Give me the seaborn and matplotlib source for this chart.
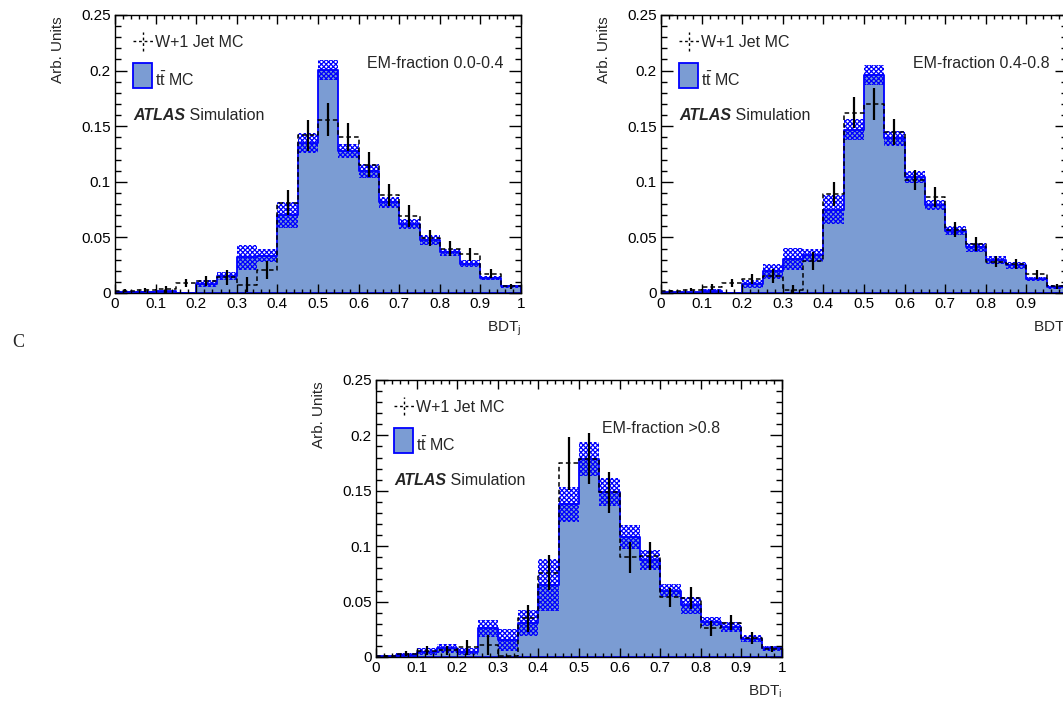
import numpy as np
import pandas as pd
import matplotlib
matplotlib.use("Agg")
import matplotlib.pyplot as plt
import matplotlib.patches as mpatches
from matplotlib.ticker import MultipleLocator, FuncFormatter
import seaborn as sns

# ---- binning (20 bins of width 0.05 on [0, 1]) ----
BIN_WIDTH = 0.05
bin_edges = np.round(np.arange(21) * BIN_WIDTH, 2)
bin_centers = (bin_edges[:-1] + bin_edges[1:]) / 2

# ---- EM-fraction 0.0-0.4 ----
ttbar_em_low = [0.001, 0.001, 0.0015, 0.0, 0.0084, 0.0157, 0.032, 0.0337, 0.070, 0.135,
                0.2005, 0.128, 0.110, 0.0816, 0.0624, 0.0474, 0.0366, 0.0264, 0.0132, 0.006]
ttbar_err_em_low = [0.0005, 0.0005, 0.0006, 0.0, 0.0033, 0.0036, 0.011, 0.0055, 0.0117, 0.009,
                    0.009, 0.0063, 0.0063, 0.0048, 0.0045, 0.0045, 0.0034, 0.003, 0.0018, 0.0012]
wjet_em_low = [0.0022, 0.0027, 0.0033, 0.009, 0.011, 0.014, 0.0075, 0.0207, 0.0813, 0.142,
               0.156, 0.140, 0.1155, 0.088, 0.0693, 0.0495, 0.040, 0.0348, 0.0174, 0.006]
wjet_err_em_low = [0.001, 0.0015, 0.003, 0.004, 0.0045, 0.0065, 0.0065, 0.0083, 0.011, 0.014,
                   0.0147, 0.0125, 0.011, 0.0098, 0.0095, 0.0072, 0.0065, 0.0056, 0.004, 0.002]

# ---- EM-fraction 0.4-0.8 ----
ttbar_em_mid = [0.0006, 0.0006, 0.002, 0.0, 0.008, 0.0195, 0.0306, 0.034, 0.075, 0.147,
                0.196, 0.139, 0.1045, 0.079, 0.056, 0.041, 0.0297, 0.025, 0.0126, 0.0054]
ttbar_err_em_mid = [0.0005, 0.0005, 0.0018, 0.0, 0.0033, 0.0065, 0.010, 0.006, 0.013, 0.0095,
                    0.009, 0.0066, 0.0054, 0.0048, 0.004, 0.004, 0.0033, 0.003, 0.0018, 0.0015]
wjet_em_mid = [0.0015, 0.003, 0.0053, 0.009, 0.0126, 0.0153, 0.003, 0.029, 0.0888, 0.162,
               0.170, 0.145, 0.1014, 0.0864, 0.057, 0.0444, 0.028, 0.0264, 0.0168, 0.006]
wjet_err_em_mid = [0.001, 0.0015, 0.003, 0.004, 0.0045, 0.0063, 0.0045, 0.008, 0.011, 0.014,
                   0.0145, 0.0117, 0.009, 0.0087, 0.007, 0.0063, 0.005, 0.0045, 0.004, 0.002]

# ---- EM-fraction >0.8 ----
ttbar_em_high = [0.0006, 0.0021, 0.0048, 0.0077, 0.0048, 0.026, 0.0153, 0.031, 0.065, 0.1377,
                 0.179, 0.149, 0.1087, 0.0873, 0.060, 0.0467, 0.032, 0.027, 0.0166, 0.008]
ttbar_err_em_high = [0.0005, 0.0018, 0.003, 0.0038, 0.003, 0.0078, 0.0097, 0.0116, 0.0238, 0.0155,
                     0.0154, 0.0124, 0.0108, 0.009, 0.006, 0.0075, 0.004, 0.0042, 0.003, 0.0023]
wjet_em_high = [0.001, 0.003, 0.0055, 0.006, 0.0087, 0.0105, 0.0005, 0.035, 0.076, 0.1747,
                0.179, 0.1485, 0.090, 0.091, 0.054, 0.0536, 0.026, 0.031, 0.017, 0.0075]
wjet_err_em_high = [0.001, 0.0025, 0.004, 0.004, 0.0065, 0.009, 0.0005, 0.0123, 0.0157, 0.024,
                    0.023, 0.0185, 0.0142, 0.0127, 0.0085, 0.01, 0.0068, 0.0065, 0.0053, 0.0028]

region_labels = ["EM-fraction 0.0-0.4", "EM-fraction 0.4-0.8", "EM-fraction >0.8"]
x_labels = [r"BDT$_{j}$", r"BDT$_{j}$", r"BDT$_{i}$"]

FILL = "#7b9cd3"
BLUE = "#0000ff"

sns.set_style("ticks")
plt.rcParams.update({
    "font.family": ["Liberation Sans", "DejaVu Sans"],
    "mathtext.fontset": "custom",
    "mathtext.rm": "Liberation Sans",
    "mathtext.it": "Liberation Sans:italic",
    "mathtext.default": "regular",
    "hatch.linewidth": 0.9,
    "axes.linewidth": 1.0,
})

fig = plt.figure(figsize=(10.63, 7.02), dpi=100)
W, H = 1063.0, 702.0
ax_tl = fig.add_axes([115 / W, (H - 293) / H, 406 / W, 278 / H])
ax_tr = fig.add_axes([661 / W, (H - 293) / H, 406 / W, 278 / H])
ax_bc = fig.add_axes([376 / W, (H - 657) / H, 406 / W, 277 / H])


def fmt(v, _):
    return f"{v:g}"


def draw_panel(ax, tt, tt_err, wj, wj_err, region, xlab, em_x):
    tt = np.asarray(tt, dtype=float)
    tt_err = np.asarray(tt_err, dtype=float)
    df = pd.DataFrame({"bdt": bin_centers, "ttbar": tt, "wjet": wj})

    # ttbar MC: filled step histogram
    sns.histplot(data=df, x="bdt", weights="ttbar", binwidth=BIN_WIDTH, binrange=(0, 1),
                 element="step", fill=True, color=FILL, alpha=1, edgecolor=BLUE,
                 linewidth=1.3, ax=ax, zorder=1)

    # statistical band of the ttbar MC
    lo = np.append(tt - tt_err, (tt - tt_err)[-1])
    hi = np.append(tt + tt_err, (tt + tt_err)[-1])
    ax.fill_between(bin_edges, lo, hi, step="post", facecolor="none",
                    edgecolor=BLUE, hatch="xxxxxxx", linewidth=0, zorder=2)

    # W+1 jet MC: dashed step with vertical error bars
    sns.histplot(data=df, x="bdt", weights="wjet", binwidth=BIN_WIDTH, binrange=(0, 1),
                 element="step", fill=False, color="black", linestyle=(0, (3, 2)),
                 linewidth=1.1, ax=ax, zorder=3)
    ax.errorbar(bin_centers, wj, yerr=wj_err, fmt="none", ecolor="black",
                elinewidth=1.6, capsize=0, zorder=4)

    ax.set_xlim(0, 1)
    ax.set_ylim(0, 0.25)
    ax.xaxis.set_major_locator(MultipleLocator(0.1))
    ax.xaxis.set_minor_locator(MultipleLocator(0.02))
    ax.yaxis.set_major_locator(MultipleLocator(0.05))
    ax.yaxis.set_minor_locator(MultipleLocator(0.01))
    ax.xaxis.set_major_formatter(FuncFormatter(fmt))
    ax.yaxis.set_major_formatter(FuncFormatter(fmt))
    ax.set_axisbelow(False)
    ax.tick_params(which="both", direction="in", top=True, right=True,
                   labelsize=11, width=1.0, colors="black", pad=3)
    ax.tick_params(axis="x", which="major", length=6.5)
    ax.tick_params(axis="x", which="minor", length=3.2)
    ax.tick_params(axis="y", which="major", length=8.6)
    ax.tick_params(axis="y", which="minor", length=4.3)
    for s in ax.spines.values():
        s.set_visible(True)
        s.set_color("black")

    ax.set_xlabel(xlab, fontsize=11)
    ax.xaxis.label.set_ha("right")
    ax.xaxis.label.set_va("top")
    ax.xaxis.set_label_coords(1.0, -0.095)

    ax.set_ylabel("Arb. Units", fontsize=11)
    ax.yaxis.label.set_rotation_mode("default")
    ax.yaxis.label.set_ha("center")
    ax.yaxis.label.set_va("top")
    ax.yaxis.set_label_coords(-0.140, 0.995)

    # legend block
    tr = ax.transAxes
    ax.plot([0.044, 0.094], [0.906, 0.906], transform=tr, color="black",
            lw=1.0, ls=(0, (2, 2)), clip_on=False)
    ax.plot([0.069, 0.069], [0.872, 0.940], transform=tr, color="black",
            lw=1.0, ls=(0, (2, 2)), clip_on=False)
    ax.text(0.0985, 0.886, "W+1 Jet MC", transform=tr, fontsize=11.5, va="baseline")
    ax.add_patch(mpatches.Rectangle((0.044, 0.737), 0.047, 0.09, transform=tr,
                                    facecolor=FILL, edgecolor=BLUE, lw=1.3))
    ax.text(0.0985, 0.745, r"t$\bar{t}$ MC", transform=tr, fontsize=11.5, va="baseline")
    t_atlas = ax.text(0.045, 0.622, "ATLAS", transform=tr, fontsize=11.5,
                      fontweight="bold", fontstyle="italic", va="baseline")
    ax.annotate(" Simulation", xy=(1, 0), xycoords=t_atlas, fontsize=11.5,
                va="bottom", ha="left")
    ax.text(em_x, 0.809, region, transform=tr, fontsize=11.5, va="baseline")


draw_panel(ax_tl, ttbar_em_low, ttbar_err_em_low, wjet_em_low, wjet_err_em_low,
           region_labels[0], x_labels[0], 0.621)
draw_panel(ax_tr, ttbar_em_mid, ttbar_err_em_mid, wjet_em_mid, wjet_err_em_mid,
           region_labels[1], x_labels[1], 0.621)
draw_panel(ax_bc, ttbar_em_high, ttbar_err_em_high, wjet_em_high, wjet_err_em_high,
           region_labels[2], x_labels[2], 0.557)

fig.text(12 / W, 1 - 342 / H, "C", family=["Liberation Serif", "DejaVu Serif"],
         fontsize=13, va="center", ha="left")

fig.savefig("out.png", dpi=100)
